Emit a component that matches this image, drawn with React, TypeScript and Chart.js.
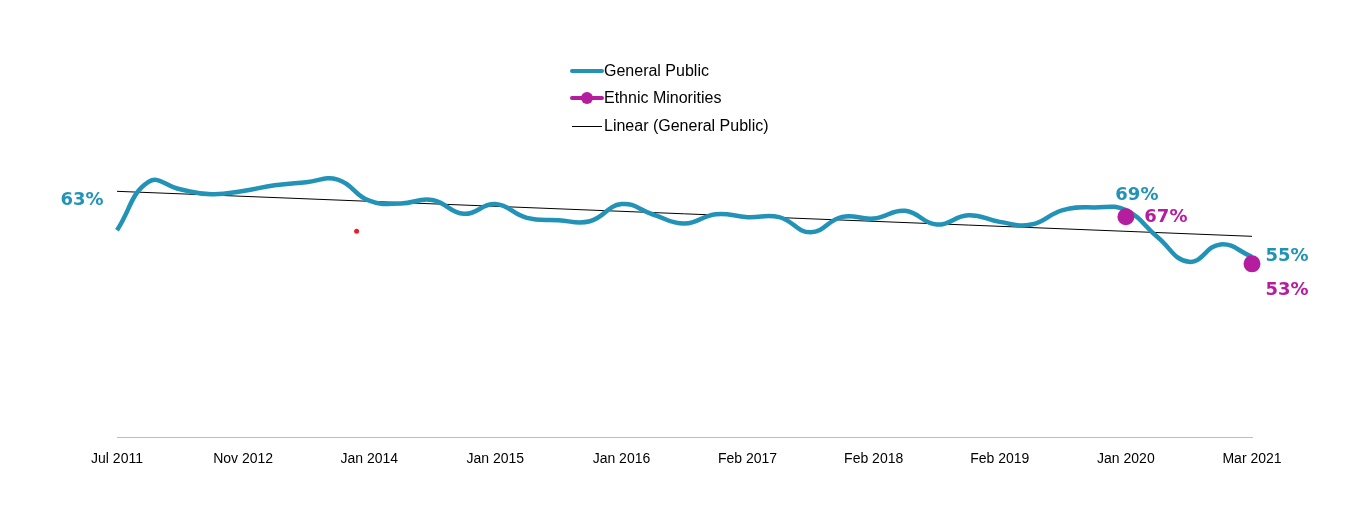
import React, { useEffect, useRef } from "react";
import { Chart, registerables } from "chart.js";

Chart.register(...registerables);

// Wave index positions that carry an axis label, and the labels themselves
const tickPositions = [0, 4, 8, 12, 16, 20, 24, 28, 32, 36];
const tickLabels = [
  "Jul 2011", "Nov 2012", "Jan 2014", "Jan 2015", "Jan 2016",
  "Feb 2017", "Feb 2018", "Feb 2019", "Jan 2020", "Mar 2021",
];

// General public, % per survey wave (37 waves)
const generalPublic = [
  63, 77.4, 75.2, 73.7, 74.7, 76.4, 77.3, 78.1, 71.8, 71.0,
  72.0, 67.9, 70.8, 66.7, 66.0, 65.7, 70.8, 67.7, 65.0, 67.8,
  66.9, 66.9, 62.4, 67.0, 66.5, 68.8, 64.7, 67.5, 65.5, 64.7,
  69.0, 69.8, 69.0, 61.0, 53.6, 58.8, 55.1,
];

// Ethnic minorities, only two waves
const ethnicMinorities: (number | null)[] = generalPublic.map(() => null);
ethnicMinorities[32] = 67;
ethnicMinorities[36] = 53;

// Linear trend of general public (start / end values)
const trendX = [0, 36];
const trendY = [74.6, 61.2];

// Stray red marker
const strayX = [7.6];
const strayY = [62.7];

const BLUE = "#2293b6";
const MAGENTA = "#b41e9e";
const FONT = "'Liberation Sans', Arial, sans-serif";
const BOLD = "'DejaVu Sans', Verdana, sans-serif";

const annotPlugin = {
  id: "annot",
  afterDraw(chart: any) {
    const ctx = chart.ctx;
    const xs = chart.scales.x;
    const ys = chart.scales.y;
    ctx.save();
    // data labels
    ctx.font = `bold 18px ${BOLD}`;
    ctx.textAlign = "center";
    ctx.textBaseline = "middle";
    const lab = (idx: number, val: number, txt: string, dx: number, dy: number, col: string) => {
      ctx.fillStyle = col;
      ctx.fillText(txt, xs.getPixelForValue(idx) + dx, ys.getPixelForValue(val) + dy);
    };
    lab(0, generalPublic[0], "63%", -35, -30, BLUE);
    lab(32, generalPublic[32], "69%", 11, -15, BLUE);
    lab(32, ethnicMinorities[32] as number, "67%", 40, 0, MAGENTA);
    lab(36, generalPublic[36], "55%", 35, 0, BLUE);
    lab(36, ethnicMinorities[36] as number, "53%", 35, 26, MAGENTA);

    // legend
    const lx0 = 564, lx1 = 594, tx = 596;
    const rows = [63, 90, 118];
    ctx.font = `16px ${FONT}`;
    ctx.textAlign = "left";
    ctx.fillStyle = "#000";
    ctx.lineCap = "round";
    // general public
    ctx.strokeStyle = BLUE;
    ctx.lineWidth = 4;
    ctx.beginPath(); ctx.moveTo(lx0, rows[0]); ctx.lineTo(lx1, rows[0]); ctx.stroke();
    ctx.fillText("General Public", tx, rows[0] + 1);
    // ethnic minorities
    ctx.strokeStyle = MAGENTA;
    ctx.beginPath(); ctx.moveTo(lx0, rows[1]); ctx.lineTo(lx1, rows[1]); ctx.stroke();
    ctx.fillStyle = MAGENTA;
    ctx.beginPath(); ctx.arc((lx0 + lx1) / 2, rows[1], 6, 0, Math.PI * 2); ctx.fill();
    ctx.fillStyle = "#000";
    ctx.fillText("Ethnic Minorities", tx, rows[1] + 1);
    // linear
    ctx.strokeStyle = "#000";
    ctx.lineWidth = 1;
    ctx.lineCap = "butt";
    ctx.beginPath(); ctx.moveTo(lx0, rows[2] + 0.5); ctx.lineTo(lx1, rows[2] + 0.5); ctx.stroke();
    ctx.fillText("Linear (General Public)", tx, rows[2] + 1);
    ctx.restore();
  },
};

export default function App() {
  const ref = useRef<HTMLCanvasElement>(null);
  useEffect(() => {
    if (!ref.current) return;
    const chart = new Chart(ref.current, {
      type: "line",
      data: {
        datasets: [
          {
            label: "Linear (General Public)",
            data: trendX.map((x, i) => ({ x, y: trendY[i] })),
            borderColor: "#000",
            borderWidth: 1,
            pointRadius: 0,
            tension: 0,
            order: 3,
          },
          {
            label: "General Public",
            data: generalPublic.map((y, x) => ({ x, y })),
            borderColor: BLUE,
            borderWidth: 4.5,
            pointRadius: 0,
            tension: 0.45,
            cubicInterpolationMode: "default",
            clip: false,
            order: 2,
          },
          {
            label: "Ethnic Minorities",
            data: ethnicMinorities.map((y, x) => ({ x, y })),
            borderColor: MAGENTA,
            backgroundColor: MAGENTA,
            pointBackgroundColor: MAGENTA,
            pointBorderColor: MAGENTA,
            pointRadius: 6.5,
            borderWidth: 4,
            spanGaps: false,
            clip: false,
            order: 1,
          },
          {
            label: "stray",
            data: strayX.map((x, i) => ({ x, y: strayY[i] })),
            showLine: false,
            pointRadius: 2.5,
            pointBackgroundColor: "#e8202a",
            pointBorderColor: "#e8202a",
            pointBorderWidth: 0,
            order: 0,
          },
        ],
      },
      options: {
        animation: false,
        responsive: true,
        maintainAspectRatio: false,
        parsing: true,
        layout: { padding: { left: 109, right: 108, top: 142, bottom: 41 } },
        plugins: { legend: { display: false }, tooltip: { enabled: false } },
        scales: {
          x: {
            type: "linear",
            min: 0,
            max: 36,
            grid: { display: false, drawTicks: false },
            border: { display: true, color: "#bfbfbf", width: 1 },
            afterBuildTicks: (s: any) => {
              s.ticks = tickPositions.map((v) => ({ value: v }));
            },
            ticks: {
              autoSkip: false,
              maxRotation: 0,
              padding: 14,
              color: "#000",
              font: { family: FONT, size: 14 },
              callback: (v: any) => {
                const i = tickPositions.indexOf(Number(v));
                return i >= 0 ? tickLabels[i] : "";
              },
            },
          },
          y: {
            display: false,
            min: 1.4,
            max: 86.9,
          },
        },
      },
      plugins: [annotPlugin],
    } as any);
    return () => chart.destroy();
  }, []);
  return (
    <div style={{ width: "100%", height: 515, position: "relative" }}>
      <canvas ref={ref} />
    </div>
  );
}
